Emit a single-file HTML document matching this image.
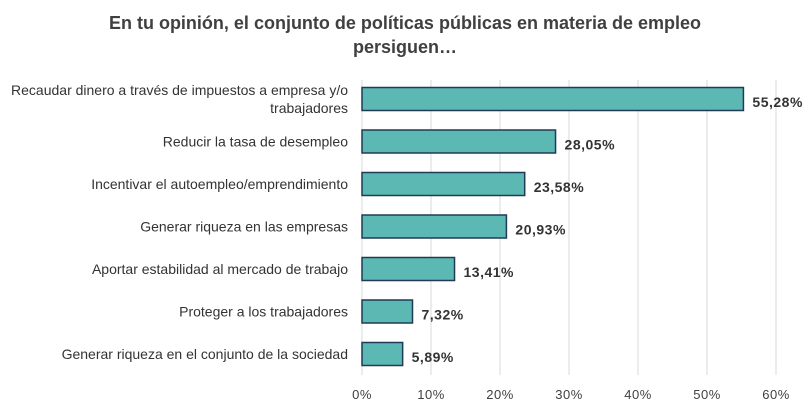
<!DOCTYPE html>
<html><head><meta charset="utf-8"><style>
body{margin:0;background:#fff;}
svg{display:block;font-family:"Liberation Sans",sans-serif;}
</style></head><body>
<svg id="chart" width="808" height="413">
<text x="405" y="29" text-anchor="middle" font-size="18" font-weight="bold" fill="#404040"><tspan x="405" y="29">En tu opinión, el conjunto de políticas públicas en materia de empleo</tspan><tspan x="405" y="53">persiguen…</tspan></text>
<g id="grid"></g><g id="bars"></g><g id="labels"></g>
</svg>
<script>
const categories=[["Recaudar dinero a través de impuestos a empresa y/o","trabajadores"],["Reducir la tasa de desempleo"],["Incentivar el autoempleo/emprendimiento"],["Generar riqueza en las empresas"],["Aportar estabilidad al mercado de trabajo"],["Proteger a los trabajadores"],["Generar riqueza en el conjunto de la sociedad"]];
const values=[55.28,28.05,23.58,20.93,13.41,7.32,5.89];
const valueLabels=["55,28%","28,05%","23,58%","20,93%","13,41%","7,32%","5,89%"];
const ticks=[0,10,20,30,40,50,60];
const tickLabels=["0%","10%","20%","30%","40%","50%","60%"];
const NS="http://www.w3.org/2000/svg";
const x=v=>362+v*6.9;
const yc=i=>99+i*42.5;
function mk(t,a,p){const e=document.createElementNS(NS,t);for(const k in a)e.setAttribute(k,a[k]);p.appendChild(e);return e;}
const g=document.getElementById('grid'),b=document.getElementById('bars'),l=document.getElementById('labels');
ticks.forEach((t,i)=>{
 const ln=mk('line',{x1:x(t),x2:x(t),y1:80,y2:375,stroke:'#d9d9d9','stroke-width':1},g);
 
 
 const tx=mk('text',{x:x(t),y:399,'text-anchor':'middle','font-size':13,'letter-spacing':0.5,fill:'#404040'},g);
 tx.textContent=tickLabels[i];
 
 
});
values.forEach((v,i)=>{
 const r=mk('rect',{x:x(0),y:yc(i)-11.5,width:x(v)-x(0),height:23,fill:'#5cb8b2',stroke:'#1f3b57','stroke-width':1.5},b);
 
 
 const vt=mk('text',{x:x(v)+9,y:yc(i)+8,'font-size':14,'letter-spacing':0.5,'font-weight':'bold',fill:'#333'},l);
 vt.textContent=valueLabels[i];
 
 
 const c=categories[i];
 const ct=mk('text',{'text-anchor':'end','font-size':14,fill:'#333'},l);
 
 
 c.forEach((s,j)=>{const ts=mk('tspan',{x:348,y:yc(i)+5+(j-(c.length-1)/2)*18},ct);ts.textContent=s;});
});
</script>
</body></html>
